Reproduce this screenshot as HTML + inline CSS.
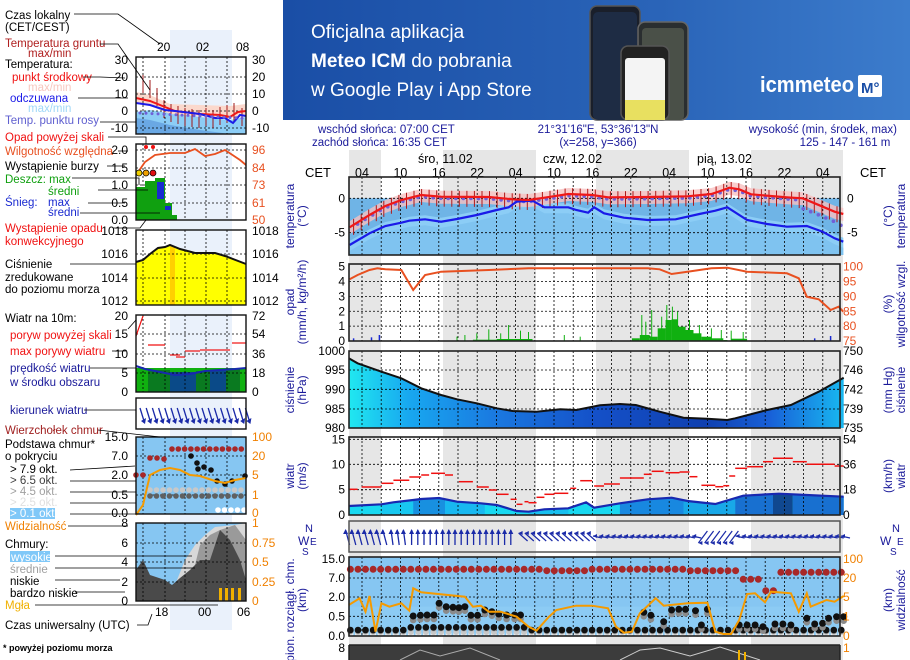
<!DOCTYPE html>
<html><head><meta charset="utf-8"><style>
html,body{margin:0;padding:0;background:#fff;width:910px;height:660px;overflow:hidden}
svg{display:block;font-family:"Liberation Sans",sans-serif}
</style></head><body>
<svg id="s" width="910" height="660" viewBox="0 0 910 660" xmlns="http://www.w3.org/2000/svg">
<defs>
<linearGradient id="ban" x1="0" y1="0" x2="1" y2="0"><stop offset="0" stop-color="#1a4ea6"/><stop offset="0.6" stop-color="#2a64b8"/><stop offset="1" stop-color="#3c7ccc"/></linearGradient>
<linearGradient id="pres" x1="0" y1="0" x2="1" y2="0"><stop offset="0" stop-color="#20e8f0"/><stop offset="0.12" stop-color="#18a8f0"/><stop offset="0.3" stop-color="#1a78e0"/><stop offset="0.5" stop-color="#1450c8"/><stop offset="0.72" stop-color="#1040b0"/><stop offset="0.85" stop-color="#1860d8"/><stop offset="1" stop-color="#18b8f0"/></linearGradient>
</defs>
<g id="g"></g>
</svg>
<script>
var o=[];
function P(s){o.push(s);}
function X(z){return 290+z*0.3975;}
function Y3(z){return 120+z/3;}
function Y4(z){return 340+z/3;}
function T(x,y,t,c,sz,anc,w){P('<text x="'+x+'" y="'+y+'" fill="'+(c||'#000')+'" font-size="'+(sz||12)+'"'+(anc?' text-anchor="'+anc+'"':'')+(w?' font-weight="bold"':'')+'>'+t+'</text>');}
function pl(pts,c,w,fy){var s=pts.map(function(p){return p[0].toFixed(1)+','+p[1].toFixed(1)}).join(' ');
 if(fy!==undefined){P('<polygon points="'+pts[0][0].toFixed(1)+','+fy+' '+s+' '+pts[pts.length-1][0].toFixed(1)+','+fy+'" fill="'+c+'"/>');}
 else P('<polyline points="'+s+'" fill="none" stroke="'+c+'" stroke-width="'+w+'"/>');}
function conv(a,fy){return a.map(function(p){return [X(p[0]),fy(p[1])]});}
function R(x,y,w,h,c,extra){P('<rect x="'+x+'" y="'+y+'" width="'+w+'" height="'+h+'" fill="'+c+'" '+(extra||'')+'/>');}
function L(x1,y1,x2,y2,c,w,d){P('<line x1="'+x1+'" y1="'+y1+'" x2="'+x2+'" y2="'+y2+'" stroke="'+c+'" stroke-width="'+(w||1)+'"'+(d?' stroke-dasharray="'+d+'"':'')+'/>');}
function interp(a,zx){for(var i=0;i<a.length-1;i++){if(zx>=a[i][0]&&zx<=a[i+1][0]){var t=(zx-a[i][0])/(a[i+1][0]-a[i][0]);return a[i][1]+t*(a[i+1][1]-a[i][1]);}}return a[zx<a[0][0]?0:a.length-1][1];}

// ===== banner
R(283,0,627,120,'url(#ban)');
T(311,38,'Oficjalna aplikacja','#fff',19);
P('<text x="311" y="67" fill="#fff" font-size="19"><tspan font-weight="bold">Meteo ICM</tspan> do pobrania</text>');
T(311,96,'w Google Play i App Store','#fff',19);
P('<rect x="590" y="6" width="50" height="114" rx="7" fill="#1a1f2a" stroke="#555" stroke-width="1.5"/>');
P('<rect x="593" y="12" width="44" height="108" rx="5" fill="#1e2c44"/>');
P('<rect x="638" y="22" width="50" height="98" rx="7" fill="#2a2e30" stroke="#666" stroke-width="1.5"/>');
P('<rect x="642" y="28" width="42" height="92" rx="4" fill="#4a5048"/>');
P('<rect x="621" y="46" width="48" height="74" rx="7" fill="#222" stroke="#555" stroke-width="1.5"/>');
P('<rect x="625" y="58" width="40" height="62" rx="3" fill="#f4f4f4"/>');
R(625,100,40,20,'#e8e060');
P('<text x="760" y="92" fill="#fff" font-size="22" font-weight="bold" textLength="94" lengthAdjust="spacingAndGlyphs">icmmeteo</text>');
R(858,75,24,22,'#fff','rx="2"');T(861,93,'M°','#1a4ea6',15,null,true);

// ===== info rows
T(318,133,'wschód słońca: 07:00 CET','#1a1a9a',11.5);
T(312,146,'zachód słońca: 16:35 CET','#1a1a9a',11.5);
T(598,133,'21°31\'16"E, 53°36\'13"N','#1a1a9a',11.5,'middle');
T(598,146,'(x=258,  y=366)','#1a1a9a',11.5,'middle');
T(897,133,'wysokość (min, środek, max)','#1a1a9a',11.5,'end');
T(845,146,'125 - 147 - 161 m','#1a1a9a',11.5,'middle');

// ===== night bands main
[[349,381],[443,536],[596,689],[751,843]].forEach(function(b){R(b[0],150,b[1]-b[0],510,'#e6e6e6');});
T(418,163,'śro, 11.02','#000',12.5);T(543,163,'czw, 12.02','#000',12.5);T(697,163,'pią, 13.02','#000',12.5);
T(305,177,'CET','#000',13);T(860,177,'CET','#000',13);
var hrs=['04','10','16','22','04','10','16','22','04','10','16','22','04'];
for(var i=0;i<13;i++)T(362+i*38.4,177,hrs[i],'#000',12.5,'middle');

var PL=349,PR=840;
function grid(y1,y2,hy){for(var x=362;x<PR;x+=19.2)L(x.toFixed(1),y1,x.toFixed(1),y2,'#000',0.8,'2,2');
 hy.forEach(function(y){L(PL,y,PR,y,'#000',0.8,'2,2');});}
function frame(y1,y2){P('<rect x="'+PL+'" y="'+y1+'" width="'+(PR-PL)+'" height="'+(y2-y1)+'" fill="none" stroke="#222" stroke-width="1.6"/>');}

// ===== temperature panel
var tTop=177,tBot=255,t0=Y3(235);
R(PL,t0,PR-PL,tBot-t0,'#6fb4e6');
var red=[[150,322],[200,285],[240,258],[280,240],[330,225],[380,230],[500,231],[560,238],[600,240],[640,233],[700,222],[760,225],[800,232],[900,231],[1000,229],[1060,222],[1090,210],[1105,203],[1130,208],[1160,223],[1250,232],[1290,235],[1320,250],[1370,275],[1392,282]];
var blue=[[150,375],[200,340],[240,318],[280,308],[300,302],[320,300],[340,298],[380,305],[420,297],[470,285],[520,270],[550,262],[570,245],[610,242],[640,262],[700,262],[720,270],[750,278],[765,262],[790,280],[840,293],[900,300],[970,298],[1030,282],[1070,272],[1100,262],[1150,300],[1200,312],[1250,320],[1300,318],[1340,335],[1370,355],[1392,365]];
var bl=conv(blue,Y3);pl(bl.map(function(p){return [p[0],Math.max(p[1]-4,t0)]}),'#8ccdf6',0,tBot);
pl(bl.map(function(p){return [p[0],p[1]+6]}),'#7fc3f0',0,tBot);
var rl=conv(red,Y3);
P('<polygon points="'+rl.map(function(p){return p[0].toFixed(1)+','+(p[1]-6).toFixed(1)}).join(' ')+' '+rl.slice().reverse().map(function(p){return p[0].toFixed(1)+','+(p[1]+7).toFixed(1)}).join(' ')+'" fill="#f8c0c0" opacity="0.8"/>');
grid(tTop,tBot,[t0,Y3(338)]);
for(var z=160;z<1390;z+=19){var y=interp(red,z);L(X(z).toFixed(1),Y3(y-18),X(z).toFixed(1),Y3(y+30),'#b01818',1);}
for(var z=170;z<1390;z+=19){var y=interp(red,z)+5; if(z>1280)y=interp([[1280,262],[1300,270],[1340,290],[1370,305],[1392,320]],z);P('<circle cx="'+X(z).toFixed(1)+'" cy="'+Y3(y).toFixed(1)+'" r="1.8" fill="#7060d8"/>');}
pl(bl,'#1a1ae8',2.2);pl(rl,'#f01818',2.2);
frame(tTop,tBot);
T(345,Y3(235)+4,'0','#000',12,'end');T(345,Y3(338)+4,'-5','#000',12,'end');
T(847,Y3(235)+4,'0','#000',12);T(847,Y3(338)+4,'-5','#000',12);

// ===== precip panel
var pTop=264,pBot=341;
var hy=[];for(var k=0;k<6;k++)hy.push(Y3(440+k*44.6));
grid(pTop,pBot,hy.slice(1,5));
var gb=[[860,880,655],[880,905,645],[905,925,650],[925,945,625],[945,960,600],[960,975,598],[975,995,620],[995,1015,630],[1015,1035,640],[1035,1060,650],[1060,1090,655],[1090,1100,660],[460,520,659],[520,610,657],[1110,1150,656]];
gb.forEach(function(b){R(X(b[0]).toFixed(1),Y3(b[2]).toFixed(1),(X(b[1])-X(b[0])).toFixed(1),(Y3(663)-Y3(b[2])).toFixed(1),'#10b010');});
var sp=[[470,640],[500,628],[530,640],[550,615],[580,632],[600,636],[885,585],[895,605],[910,570],[935,590],[948,555],[962,560],[975,575],[1005,600],[1030,615],[1060,625],[1085,630],[1110,632],[1140,636],[690,645],[730,650],[420,650],[440,645]];
sp.forEach(function(s){L(X(s[0]).toFixed(1),Y3(s[1]),X(s[0]).toFixed(1),Y3(663),'#10b010',1);});
[[160,655],[205,652],[225,645],[1320,655],[1360,648]].forEach(function(s){L(X(s[0]).toFixed(1),Y3(s[1]),X(s[0]).toFixed(1),Y3(663),'#1a2ad0',1.5);});
var rh=[[150,478],[170,465],[200,450],[220,445],[240,448],[280,450],[310,510],[340,465],[380,455],[500,450],[600,445],[900,445],[930,448],[960,462],[1000,455],[1060,445],[1100,443],[1150,455],[1250,460],[1280,475],[1300,530],[1330,538],[1360,570],[1380,560],[1392,575]];
pl(conv(rh,Y3),'#e85020',2);
frame(pTop,pBot);
['5','4','3','2','1','0'].forEach(function(t,k){T(345,hy[k]+4,t,'#000',12,'end');});
['100','95','90','85','80','75'].forEach(function(t,k){T(843,hy[k]+4,t,'#e85020',12);});

// ===== pressure
var prT=351,prB=428;
var pr=[[148,55],[170,70],[230,95],[280,115],[330,145],[380,165],[420,178],[470,190],[520,205],[560,213],[620,215],[680,208],[720,210],[780,196],[830,192],[870,195],[930,215],[990,233],[1050,236],[1100,240],[1120,235],[1200,210],[1260,195],[1330,155],[1393,113]];
var prl=conv(pr,Y4);pl(prl,'url(#pres)',0,prB);
var ph=[prT,Y4(90),Y4(148),Y4(207),prB];
grid(prT,prB,ph.slice(1,4));
pl(prl,'#111',2);frame(prT,prB);
['1000','995','990','985','980'].forEach(function(t,k){T(345,ph[k]+4,t,'#000',12,'end');});
['750','746','742','739','735'].forEach(function(t,k){T(843,ph[k]+4,t,'#000',12);});

// ===== wind
var wT=437,wB=515;
var wb=[[148,498],[230,493],[260,487],[310,480],[330,477],[375,474],[420,485],[480,490],[520,495],[570,513],[600,515],[640,508],[700,505],[745,487],[765,503],[830,490],[900,478],[960,473],[1000,483],[1070,492],[1140,467],[1230,461],[1300,465],[1393,470]];
var wl=conv(wb,Y4);
pl(wl,'#18d8f0',0,wB);
[[230,310,'#18c8f0'],[310,390,'#1890e0'],[390,490,'#18b8f0'],[600,700,'#18c0f0'],[830,990,'#1888e0'],[990,1120,'#18a8e8'],[1120,1215,'#1870d0'],[1215,1265,'#104890'],[1265,1393,'#1870d0']].forEach(function(b){
 var seg=wb.filter(function(p){return p[0]>=b[0]&&p[0]<=b[1]});seg.unshift([b[0],interp(wb,b[0])]);seg.push([b[1],interp(wb,b[1])]);
 pl(conv(seg,Y4),b[2],0,wB);});
var wh=[Y4(298),Y4(373),Y4(449)];
grid(wT,wB,wh);
pl(wl,'#1828b0',2.2);
var gs=[[148,170,448],[180,230,441],[230,260,430],[260,300,421],[300,330,411],[330,350,405],[355,390,400],[390,410,405],[425,460,425],[470,500,441],[500,520,450],[520,550,463],[555,570,478],[570,585,493],[590,600,485],[600,620,488],[620,640,472],[640,665,463],[665,700,460],[705,720,445],[730,760,422],[765,790,438],[790,830,432],[830,890,414],[890,910,403],[910,940,394],[945,980,398],[980,1005,396],[1005,1025,410],[1035,1070,436],[1070,1090,440],[1090,1105,437],[1105,1120,408],[1120,1150,385],[1150,1190,380],[1190,1215,365],[1215,1265,355],[1265,1300,365],[1300,1370,373],[1370,1393,378]];
gs.forEach(function(g){L(X(g[0]).toFixed(1),Y4(g[2]).toFixed(1),X(g[1]).toFixed(1),Y4(g[2]).toFixed(1),'#f01010',1.5);});
frame(wT,wB);
[['15',Y4(298)],['10',Y4(373)],['5',Y4(449)],['0',wB]].forEach(function(a){T(345,a[1]+4,a[0],'#000',12,'end');});
[['54',Y4(298)],['36',Y4(373)],['18',Y4(449)],['0',wB]].forEach(function(a){T(843,a[1]+4,a[0],'#000',12);});

// ===== wind direction
var dT=521,dB=552;
for(var x=X(150);x<X(570);x+=6.2){var dx=(x<X(250))?-4:(x<X(300)?-2:0);L(x.toFixed(1),545,(x+dx).toFixed(1),530,'#1a2aa8',1.3);P('<polygon points="'+(x+dx-2.5).toFixed(1)+',534 '+(x+dx).toFixed(1)+',529 '+(x+dx+2.5).toFixed(1)+',534" fill="#1a2aa8"/>');}
for(var x=X(575);x<X(1400);x+=6.2){var z=(x-290)/0.3975;var tilt=(z<760)?4:(z>1020&&z<1110?-6:1);L(x.toFixed(1),(537-tilt).toFixed(1),(x+9).toFixed(1),(537+tilt).toFixed(1),'#1a2aa8',1.2);P('<polygon points="'+x.toFixed(1)+','+(537-tilt).toFixed(1)+' '+(x+4).toFixed(1)+','+(535-tilt).toFixed(1)+' '+(x+4).toFixed(1)+','+(539-tilt).toFixed(1)+'" fill="#1a2aa8"/>');}
P('<rect x="'+PL+'" y="'+dT+'" width="'+(PR-PL)+'" height="'+(dB-dT)+'" fill="none" stroke="#555" stroke-width="1.5"/>');

// ===== clouds panel
var cT=557,cB=636;
R(PL,cT,PR-PL,cB-cT,'#86c6f2');
R(PL,Y4(800),PR-PL,cB-Y4(800),'#8ccbf4');
var ch=[Y4(714),Y4(771),Y4(829)];
grid(cT,cB,ch);
function dot(z,zy,c,r){P('<circle cx="'+X(z).toFixed(1)+'" cy="'+Y4(zy).toFixed(1)+'" r="'+(r||3.3)+'" fill="'+c+'"/>');}
for(var z=152;z<1395;z+=19){var zy=688; if(z>1125&&z<1195)zy=718; else if(z>=1195&&z<1225)zy=752; else if(z>=1225)zy=697; else if(z>=640&&z<760)zy=692; else if(z>=1000&&z<1125)zy=692;
 dot(z,zy,'#a82828',3.5);}
for(var z=152;z<1395;z+=19){dot(z,882,'#f0f0f0',3);dot(z,876,'#c8c8c8',3);}
for(var z=152;z<1395;z+=19){var zy=870; if(z>300&&z<600)zy=862; dot(z,zy+2,'#909090',3.3);dot(z,zy,'#111',3.3);}
[[310,828],[328,826],[345,825],[362,825],[375,790],[393,800],[410,802],[425,803],[440,800],[455,826],[472,826],[490,810],[508,815],[525,822],[545,825],[565,825],[580,825],[890,817],[908,826],[940,845],[960,810],[978,808],[995,808],[1020,812],[1050,808],[1035,855],[1130,855],[1150,855],[1170,855],[1190,860],[1220,852],[1240,852],[1260,855],[1300,835],[1320,852],[1340,850],[1355,835],[1375,830],[1393,830]].forEach(function(d){dot(d[0],d[1]+12,'#8a8a8a',3.3);dot(d[0],d[1],'#111',3.5);});
var vis=[[148,795],[175,775],[190,815],[200,768],[215,875],[230,790],[250,800],[280,790],[300,812],[310,745],[330,757],[440,770],[460,800],[480,797],[500,815],[530,815],[570,830],[600,860],[620,872],[650,832],[670,810],[720,797],[760,797],[800,805],[820,860],[840,878],[860,875],[880,820],[920,775],[940,797],[1000,790],[1050,788],[1070,875],[1090,882],[1110,882],[1130,840],[1150,762],[1170,760],[1195,787],[1210,755],[1260,760],[1280,815],[1300,760],[1310,800],[1350,780],[1370,785],[1393,768]];
pl(conv(vis,Y4),'#f59a00',2);
frame(cT,cB);
[['15.0',cT+2],['7.0',ch[0]],['2.0',ch[1]],['0.5',ch[2]],['0.0',cB]].forEach(function(a){T(345,a[1]+4,a[0],'#000',12,'end');});
[['100',cT+2],['20',ch[0]],['5',ch[1]],['1',ch[2]],['0',cB]].forEach(function(a){T(843,a[1]+4,a[0],'#f08000',12);});

// ===== bottom cloud cover
R(PL,645,PR-PL,15,'#3c3c3c');
P('<polyline points="400,660 420,650 440,656 470,648 500,660" fill="none" stroke="#aaa" stroke-width="1"/>');
P('<polyline points="620,660 640,650 660,648 690,656 720,647 760,660" fill="none" stroke="#ccc" stroke-width="1"/>');
R(738,650,2,10,'#f0b000');R(744,652,2,8,'#f0b000');
L(PL,645,PR,645,'#222',1.5);L(PL,645,PL,660,'#222',1.5);L(PR,645,PR,660,'#222',1.5);
T(345,652,'8','#000',12,'end');T(843,652,'1','#f08000',12);

// ===== rotated side labels
function RT(x,y,t,c,sz){P('<text transform="translate('+x+','+y+') rotate(-90)" fill="'+(c||'#1a1a9a')+'" font-size="'+(sz||12)+'" text-anchor="middle">'+t+'</text>');}
RT(294,216,'temperatura');RT(306,216,'(°C)');
RT(294,302,'opad');RT(306,302,'(mm/h, kg/m²/h)');
RT(294,390,'ciśnienie');RT(306,390,'(hPa)');
RT(294,476,'wiatr');RT(306,476,'(m/s)');
RT(294,610,'pion. rozciągł. chm.');RT(306,600,'(km)');
RT(892,216,'(°C)');RT(905,216,'temperatura');
RT(892,304,'(%)');RT(905,304,'wilgotność wzgl.');
RT(892,390,'(mm Hg)');RT(905,390,'ciśnienie');
RT(892,476,'(km/h)');RT(905,476,'wiatr');
RT(892,600,'(km)');RT(905,600,'widzialność');
T(298,545,'W','#1a1a9a',12);T(305,532,'N','#1a1a9a',11);T(302,555,'S','#1a1a9a',10);T(310,545,'E','#1a1a9a',10);
T(880,545,'W','#1a1a9a',12);T(892,532,'N','#1a1a9a',11);T(890,555,'S','#1a1a9a',10);T(897,545,'E','#1a1a9a',10);

// ===== LEFT mini chart
var ML=136,MR=246;
R(170,30,62,600,'#eaf1fb');
T(157,51,'20','#000',12);T(196,51,'02','#000',12);T(236,51,'08','#000',12);
T(155,616,'18','#000',12);T(198,616,'00','#000',12);T(237,616,'06','#000',12);
function mgrid(y1,y2,ys){[143,165,185,206,227].forEach(function(x){L(x,y1,x,y2,'#000',0.8,'2,2');});ys.forEach(function(y){L(ML,y,MR,y,'#000',0.8,'2,2');});}
function mframe(y1,y2){P('<rect x="'+ML+'" y="'+y1+'" width="'+(MR-ML)+'" height="'+(y2-y1)+'" fill="none" stroke="#111" stroke-width="1.4"/>');}
P('<polygon points="136,112 150,110 170,113 200,117 230,120 246,117 246,134 136,134" fill="#8ccdf6"/>');
P('<polygon points="136,118 150,120 170,125 200,130 230,134 136,134" fill="#6aa8e4"/>');
P('<polygon points="136,92 150,95 170,104 200,105 230,106 246,104 246,116 230,118 200,116 170,114 150,106 136,103" fill="#fbd8cc"/>');
mgrid(57,134,[77,94,111,128]);
[[143,75],[150,80],[157,88],[164,100],[171,104],[178,106],[185,108],[192,109],[199,110],[206,108],[213,110],[220,107],[227,105],[234,103],[242,108]].forEach(function(v){L(v[0],v[1],v[0],v[1]+18,'#a01818',1);});
P('<polyline points="136,98 150,101 165,107 175,111 200,114 220,115 230,117 238,112 246,111" fill="none" stroke="#f01818" stroke-width="2"/>');
P('<polyline points="136,103 150,105 165,110 175,111 200,114 215,118 225,118 233,123 240,115 246,116" fill="none" stroke="#1a1ae8" stroke-width="2"/>');
for(var x=140;x<246;x+=6)P('<circle cx="'+x+'" cy="'+(113+(x-140)*0.05)+'" r="1.5" fill="#7060d8"/>');
mframe(57,134);
[['30',60],['20',77],['10',94],['0',111],['-10',128]].forEach(function(a){T(128,a[1]+4,a[0],'#000',12,'end');T(252,a[1]+4,a[0],'#000',12);});
mgrid(144,220,[150,168,185,203]);
R(136,187,9,33,'#10a010');R(145,181,10,39,'#10a010');R(155,178,10,42,'#10a010');R(165,203,7,17,'#10a010');R(172,215,5,5,'#10a010');
R(157,182,7,17,'#1a2ad0');R(165,206,6,4,'#1a2ad0');
P('<polyline points="136,175 145,162 155,155 170,153 185,153 195,149 205,156 215,154 225,150 240,160 246,165" fill="none" stroke="#e85020" stroke-width="1.8"/>');
[[146,147],[153,147]].forEach(function(c){P('<circle cx="'+c[0]+'" cy="'+c[1]+'" r="2" fill="#f01010"/>');});
[[139,'#f0d000'],[146,'#f0a000'],[153,'#e01010']].forEach(function(c){P('<circle cx="'+c[0]+'" cy="173" r="3" fill="'+c[1]+'" stroke="#000" stroke-width="0.7"/>');});
mframe(144,220);
[['2.0',150],['1.5',168],['1.0',185],['0.5',203],['0.0',220]].forEach(function(a){T(128,a[1]+4,a[0],'#000',12,'end');});
[['96',150],['84',168],['73',185],['61',203],['50',220]].forEach(function(a){T(252,a[1]+4,a[0],'#e85020',12);});
P('<polygon points="136,262 143,260 150,254 158,248 165,247 170,245 180,249 195,253 215,253 225,256 246,264 246,305 136,305" fill="#ffff00"/>');
R(170,246,5,59,'#ffd000');
mgrid(230,305,[254,278,301]);
P('<polyline points="136,262 143,260 150,254 158,248 165,247 170,245 180,249 195,253 215,253 225,256 246,264" fill="none" stroke="#111" stroke-width="2"/>');
mframe(230,305);
[['1018',231],['1016',254],['1014',278],['1012',301]].forEach(function(a){T(128,a[1]+4,a[0],'#000',12,'end');T(252,a[1]+4,a[0],'#000',12);});
R(136,368,110,24,'#10b010');R(148,370,22,22,'#0a7a20');R(170,372,26,20,'#0a4a88');R(210,370,16,22,'#0a4a88');R(196,371,14,21,'#0a7a20');R(226,369,14,23,'#0a7a20');
mgrid(315,392,[334,354,373]);
P('<polyline points="136,366 145,369 160,372 175,375 190,374 205,371 220,370 235,369 246,368" fill="none" stroke="#1828b0" stroke-width="2"/>');
[[148,345,165],[170,355,180],[176,357,185],[185,351,200],[200,350,215],[215,350,230],[232,343,246]].forEach(function(s){L(s[0],s[1],s[2],s[1],'#f01010',1.2);});
L(136,336,143,316,'#f01010',1.2);
mframe(315,392);
[['20',316],['15',334],['10',354],['5',373],['0',392]].forEach(function(a){T(128,a[1]+4,a[0],'#000',12,'end');});
[['72',316],['54',334],['36',354],['18',373],['0',392]].forEach(function(a){T(252,a[1]+4,a[0],'#000',12);});
for(var x=140;x<248;x+=6.2){L(x,408,x+4,421,'#1a2aa8',1.3);P('<polygon points="'+(x+1)+',421 '+(x+6)+',418 '+(x+5)+',424" fill="#1a2aa8"/>');}
mframe(398,429);
R(136,437,110,77,'#86c6f2');
mgrid(437,514,[456,475,495]);
for(var x=172;x<246;x+=6.3)P('<circle cx="'+x.toFixed(1)+'" cy="449" r="2.8" fill="#a82828"/>');
[[150,458],[157,458],[164,459],[136,475],[143,475]].forEach(function(c){P('<circle cx="'+c[0]+'" cy="'+c[1]+'" r="2.8" fill="#a82828"/>');});
[[191,456],[197,463],[198,469],[204,467],[211,470],[217,481],[225,484],[232,481],[245,476]].forEach(function(c){P('<circle cx="'+c[0]+'" cy="'+c[1]+'" r="2.8" fill="#111"/>');});
for(var x=150;x<246;x+=6.5){P('<circle cx="'+x.toFixed(1)+'" cy="490" r="2.8" fill="#c8c8c8"/>');P('<circle cx="'+x.toFixed(1)+'" cy="496" r="2.8" fill="#606060"/>');}
for(var x=218;x<246;x+=6.5)P('<circle cx="'+x.toFixed(1)+'" cy="510" r="2.8" fill="#fff"/>');
P('<polyline points="136,515 143,505 150,475 160,470 170,468 180,470 190,475 200,476 215,481 225,483 235,480 246,478" fill="none" stroke="#f59a00" stroke-width="2"/>');
mframe(437,514);
[['15.0',437],['7.0',456],['2.0',475],['0.5',495],['0.0',513]].forEach(function(a){T(128,a[1]+4,a[0],'#000',12,'end');});
[['100',437],['20',456],['5',475],['1',495],['0',513]].forEach(function(a){T(252,a[1]+4,a[0],'#f08000',12);});
R(136,523,110,78,'#86c6f2');
P('<polygon points="172,601 175,585 185,560 195,545 205,535 215,527 235,525 246,523 246,601" fill="#d8d8d8"/>');
P('<polygon points="190,601 195,565 200,545 210,535 220,530 235,525 246,540 246,601" fill="#9a9a9a"/>');
P('<polygon points="136,601 136,570 143,560 150,575 165,580 172,585 180,578 190,570 200,560 210,560 220,530 230,540 240,560 246,580 246,601" fill="#4a4a4a"/>');
mgrid(523,601,[543,562,582]);
[219,225,231,238].forEach(function(x){R(x,588,3,13,'#f0b000');});
mframe(523,601);
[['8',523],['6',543],['4',562],['2',582],['0',601]].forEach(function(a){T(128,a[1]+4,a[0],'#000',12,'end');});
[['1',523],['0.75',543],['0.5',562],['0.25',582],['0',601]].forEach(function(a){T(252,a[1]+4,a[0],'#f08000',12);});

// ===== left labels
var lab=[[5,19,'Czas lokalny','#000'],[5,31,'(CET/CEST)','#000'],[5,47,'Temperatura gruntu','#b02020'],[28,57,'max/min','#b02020'],
[5,68,'Temperatura:','#000'],[12,81,'punkt środkowy','#f01010'],[28,91,'max/min','#f8c8c0'],[10,102,'odczuwana','#1a1ae8'],[28,112,'max/min','#a0d8f8'],
[5,124,'Temp. punktu rosy','#6060d0'],[5,141,'Opad powyżej skali','#f01010'],[5,155,'Wilgotność względna','#e85020'],[5,170,'Wystąpienie burzy','#000'],
[5,183,'Deszcz: max','#10a010'],[48,195,'średni','#10a010'],[5,206,'Śnieg:','#1a2ad0'],[48,206,'max','#1a2ad0'],[48,216,'średni','#1a2ad0'],
[5,232,'Wystąpienie opadu','#f01010'],[5,245,'konwekcyjnego','#f01010'],[5,268,'Ciśnienie','#000'],[5,281,'zredukowane','#000'],[5,293,'do poziomu morza','#000'],
[5,322,'Wiatr na 10m:','#000'],[10,339,'poryw powyżej skali','#f01010'],[10,355,'max porywy wiatru','#f01010'],[10,372,'prędkość wiatru','#1a1a9a'],[10,386,'w środku obszaru','#1a1a9a'],
[10,414,'kierunek wiatru','#1a1a9a'],[5,434,'Wierzchołek chmur','#a02020'],[5,448,'Podstawa chmur*','#000'],[5,460,'o pokryciu','#000'],
[10,473,'> 7.9 okt.','#000'],[10,484,'> 6.5 okt.','#404040'],[10,495,'> 4.5 okt.','#a0a0a0'],[10,506,'> 2.5 okt.','#e0e0e0'],
[5,530,'Widzialność','#f08000'],[5,548,'Chmury:','#000'],[10,573,'średnie','#a0a0a0'],[10,585,'niskie','#000'],[10,597,'bardzo niskie','#000'],[5,609,'Mgła','#f0b000'],
[5,629,'Czas uniwersalny (UTC)','#000']];
R(10,508,45,11,'#80c8f8');T(10,517,'> 0.1 okt.','#fff',11.5);
R(10,551,40,11,'#80c8f8');T(11,561,'wysokie','#fff',11.5);
lab.forEach(function(l){T(l[0],l[1],l[2],l[3],11.5);});
T(3,651,'* powyżej poziomu morza','#000',9,null,true);
var ld=[[74,14,118,14,160,44],[100,44,118,44,150,90],[83,77,100,77,125,78],[78,98,128,98],[100,122,136,122],[108,137,146,137,146,144],[118,151,128,151],[107,166,125,166],[72,178,139,178,139,185],[98,190,148,190],[88,203,125,203],[80,213,160,213],[113,228,140,228,146,220],[70,264,136,264],[128,329,136,320],[112,351,126,351],[90,368,136,368],[84,410,136,410],[98,430,160,437],[70,470,135,466],[70,481,136,481],[70,492,136,492],[70,503,136,503],[70,514,136,514],[68,526,128,526],[55,556,192,556],[55,568,195,568],[55,580,120,580],[75,592,125,592],[35,605,218,605],[137,625,148,625,152,614]];
ld.forEach(function(a){var pts=[];for(var i=0;i<a.length;i+=2)pts.push(a[i]+','+a[i+1]);P('<polyline points="'+pts.join(' ')+'" fill="none" stroke="#000" stroke-width="0.8"/>');});

document.getElementById('g').innerHTML=o.join('');
</script>
</body></html>
